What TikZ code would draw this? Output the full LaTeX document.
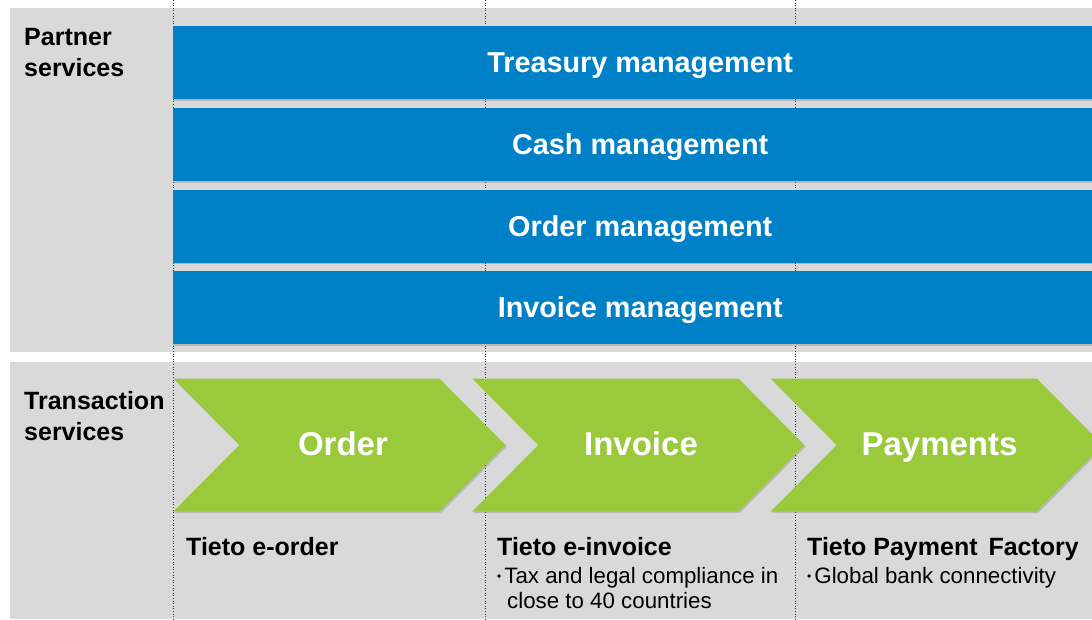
\documentclass[tikz,border=0pt]{standalone}
\usepackage{fontspec}
\setmainfont{Liberation Sans}
\usetikzlibrary{shadows}
\definecolor{panelgray}{RGB}{217,217,217}
\definecolor{tietoblue}{RGB}{0,128,198}
\definecolor{tietogreen}{RGB}{154,202,60}
\tikzset{
  panel/.style={fill=panelgray},
  guide/.style={draw=black!80, dotted, line width=0.6pt},
  bar/.style={fill=tietoblue, text=white, inner sep=0pt, anchor=north west,
    minimum width=934pt, minimum height=73pt, text height=20.5pt, text depth=0pt,
    font=\fontsize{28.8}{32}\selectfont\bfseries,
    drop shadow={shadow xshift=0pt, shadow yshift=-1.5pt, opacity=0.35}},
  chev/.style={fill=tietogreen,
    drop shadow={shadow xshift=1.5pt, shadow yshift=-1.5pt, opacity=0.35}},
  chevtext/.style={text=white, font=\fontsize{33}{36}\selectfont\bfseries, inner sep=0pt,
    text height=23.6pt, text depth=0pt},
  sidelabel/.style={anchor=west, align=left, inner sep=0pt,
    font=\fontsize{25}{31}\selectfont\bfseries},
  head/.style={anchor=base west, inner sep=0pt, font=\fontsize{25}{28}\selectfont\bfseries},
  bul/.style={anchor=base west, inner sep=0pt, font=\fontsize{22.3}{25}\selectfont},
}
\begin{document}
\begin{tikzpicture}[x=1pt,y=-1pt]
\useasboundingbox (0,0) rectangle (1092,619);
\clip (0,0) rectangle (1092,619);
% panels
\fill[panel] (10,8) rectangle (1092,352);
\fill[panel] (10,362) rectangle (1092,619);
% guides
\draw[guide] (173,0) -- (173,619);
\draw[guide] (485,0) -- (485,619);
\draw[guide] (795,0) -- (795,619);
% side labels
\node[sidelabel] (partner) at (24,53) {Partner\\services};
\node[sidelabel] (transaction) at (24,416) {Transaction\\services};
% bars
\node[bar] (treasury) at (173,26) {Treasury management};
\node[bar] (cash) at (173,108) {Cash management};
\node[bar] (ordermgmt) at (173,189.5) {Order management};
\node[bar] (invoicemgmt) at (173,271) {Invoice management};
% chevrons
\foreach \L in {173.3, 472.3, 770.7}{
  \fill[chev] (\L,378.5) -- ++(266,0) -- ++(66,66.5) -- ++(-66,66.5)
     -- ++(-266,0) -- ++(66,-66.5) -- cycle;
}
\node[chevtext] (order) at (343,443.5) {Order};
\node[chevtext] (invoice) at (641,443.5) {Invoice};
\node[chevtext] (payments) at (939.5,443.5) {Payments};
% bottom texts
\node[head] (eorder) at (186,555) {Tieto e-order};
\node[head] (einvoice) at (497,555) {Tieto e-invoice};
\node[head] (factory) at (807,555) {Tieto Payment\hspace{4pt} Factory};
\node[bul] (b1) at (497,583) {{\fontsize{12}{12}\selectfont\raisebox{2.5pt}{\textbullet}}\hspace{3pt}Tax and legal compliance in};
\node[bul] (b2) at (507,608) {close to 40 countries};
\node[bul] (b3) at (807,583) {{\fontsize{12}{12}\selectfont\raisebox{2.5pt}{\textbullet}}\hspace{3pt}Global bank connectivity};
\end{tikzpicture}
\end{document}
